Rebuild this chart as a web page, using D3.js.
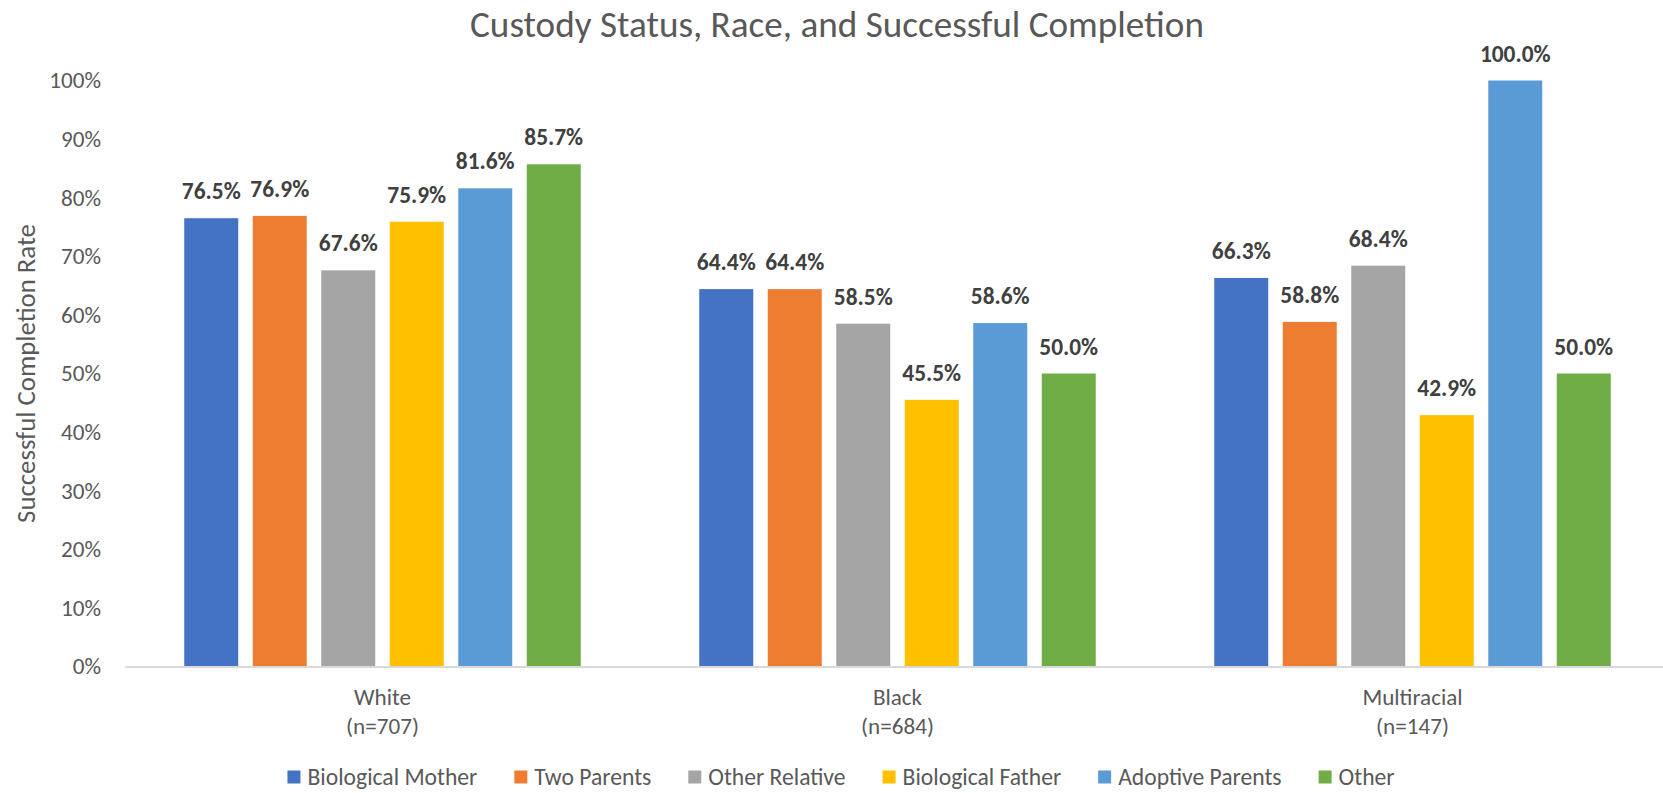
<!DOCTYPE html>
<html>
<head>
<meta charset="utf-8">
<script src="https://cdn.jsdelivr.net/npm/d3@7"></script>
<style>
  html, body { margin: 0; padding: 0; background: #fff; }
  svg { display: block; }
  text { font-family: Calibri, Carlito, "Open Sans", sans-serif; }
</style>
</head>
<body>
<svg id="chart" width="1663" height="793"></svg>
<script>
// ---- data ----
const categories = ["White", "Black", "Multiracial"];
const categoryCounts = ["(n=707)", "(n=684)", "(n=147)"];
const seriesNames = ["Biological Mother", "Two Parents", "Other Relative", "Biological Father", "Adoptive Parents", "Other"];
const seriesColors = ["#4472C4", "#ED7D31", "#A5A5A5", "#FFC000", "#5B9BD5", "#70AD47"];
const biologicalMother = [0.765, 0.644, 0.663];
const twoParents      = [0.769, 0.644, 0.588];
const otherRelative   = [0.676, 0.585, 0.684];
const biologicalFather= [0.759, 0.455, 0.429];
const adoptiveParents = [0.816, 0.586, 1.000];
const other           = [0.857, 0.500, 0.500];
const seriesValues = [biologicalMother, twoParents, otherRelative, biologicalFather, adoptiveParents, other];
const yTicks = [0, 0.1, 0.2, 0.3, 0.4, 0.5, 0.6, 0.7, 0.8, 0.9, 1.0];
const chartTitle = "Custody Status, Race, and Successful Completion";
const yTitle = "Successful Completion Rate";

// ---- layout ----
const svg = d3.select("#chart");
const W = 1663, H = 793;

// fit helper: sets font size so the text reaches the target width
function fitSize(sampleText, weight, targetWidth) {
  const t = svg.append("text").attr("font-size", 100).attr("font-weight", weight).text(sampleText);
  const w = t.node().getComputedTextLength();
  t.remove();
  return 100 * targetWidth / w;
}

const x = d3.scaleBand().domain(categories).range([125, 1670]).paddingInner(0).paddingOuter(0);
const xInner = d3.scaleBand().domain(seriesNames).range([-205.5, 205.5]).paddingInner(0.2117).paddingOuter(0.1058);
const y = d3.scaleLinear().domain([0, 1]).range([666.5, 80.5]);

const textGray = "#595959";

// title
const titleSize = fitSize(chartTitle, "normal", 734);
svg.append("text")
  .attr("x", 837).attr("y", 24)
  .attr("text-anchor", "middle").attr("dominant-baseline", "central")
  .attr("font-size", titleSize).attr("fill", textGray)
  .text(chartTitle);

// y axis tick labels
const tickSize = fitSize("10%", "normal", 40);
const yAxis = d3.axisLeft(y).tickValues(yTicks).tickFormat(d3.format(".0%")).tickSize(0).tickPadding(0);
const yg = svg.append("g").attr("transform", "translate(101,0)").call(yAxis);
yg.select(".domain").remove();
yg.selectAll("text").attr("font-size", tickSize).attr("fill", textGray)
  .attr("font-family", 'Calibri, Carlito, "Open Sans", sans-serif');

// y title
const yTitleSize = fitSize(yTitle, "normal", 299);
svg.append("text")
  .attr("transform", "translate(26," + (y(0.5)) + ") rotate(-90)")
  .attr("text-anchor", "middle").attr("dominant-baseline", "central")
  .attr("font-size", yTitleSize).attr("fill", textGray)
  .text(yTitle);

// bars
const groups = svg.append("g").selectAll("g")
  .data(categories).join("g")
  .attr("transform", d => "translate(" + (x(d) + x.bandwidth() / 2) + ",0)");

const labelSize = fitSize("100.0%", "bold", 70.7);
groups.each(function(cat, ci) {
  const g = d3.select(this);
  seriesNames.forEach((s, si) => {
    const v = seriesValues[si][ci];
    g.append("rect")
      .attr("x", xInner(s)).attr("width", xInner.bandwidth())
      .attr("y", y(v)).attr("height", y(0) - y(v))
      .attr("fill", seriesColors[si]);
    g.append("text")
      .attr("x", xInner(s) + xInner.bandwidth() / 2)
      .attr("y", y(v) - 19)
      .attr("text-anchor", "middle")
      .attr("font-size", labelSize).attr("font-weight", "bold").attr("fill", "#404040")
      .text(d3.format(".1%")(v));
  });
});

// x axis line
svg.append("line").attr("x1", 125).attr("x2", 1670).attr("y1", y(0) + 0.5).attr("y2", y(0) + 0.5)
  .attr("stroke", "#D9D9D9").attr("stroke-width", 2);

// x category labels
const xLabSize = fitSize("White", "normal", 57);
categories.forEach((c, i) => {
  const cx = x(c) + x.bandwidth() / 2;
  svg.append("text").attr("x", cx).attr("y", 697)
    .attr("text-anchor", "middle").attr("dominant-baseline", "central")
    .attr("font-size", xLabSize).attr("fill", textGray).text(c);
  svg.append("text").attr("x", cx).attr("y", 726)
    .attr("text-anchor", "middle").attr("dominant-baseline", "central")
    .attr("font-size", xLabSize).attr("fill", textGray).text(categoryCounts[i]);
});

// legend
const legSize = fitSize("Biological Mother", "normal", 170);
const legend = svg.append("g");
let lx = 0;
seriesNames.forEach((s, i) => {
  const it = legend.append("g").attr("transform", "translate(" + lx + ",0)");
  it.append("rect").attr("x", 0).attr("y", -6.5).attr("width", 13).attr("height", 13).attr("fill", seriesColors[i]);
  const t = it.append("text").attr("x", 20).attr("y", 0).attr("dominant-baseline", "central")
    .attr("font-size", legSize).attr("fill", textGray).text(s);
  const w = t.node().getComputedTextLength();
  lx += 20 + w + 37;
});
const totalW = lx - 37;
legend.attr("transform", "translate(" + (841 - totalW / 2) + ",777)");
</script>
</body>
</html>
